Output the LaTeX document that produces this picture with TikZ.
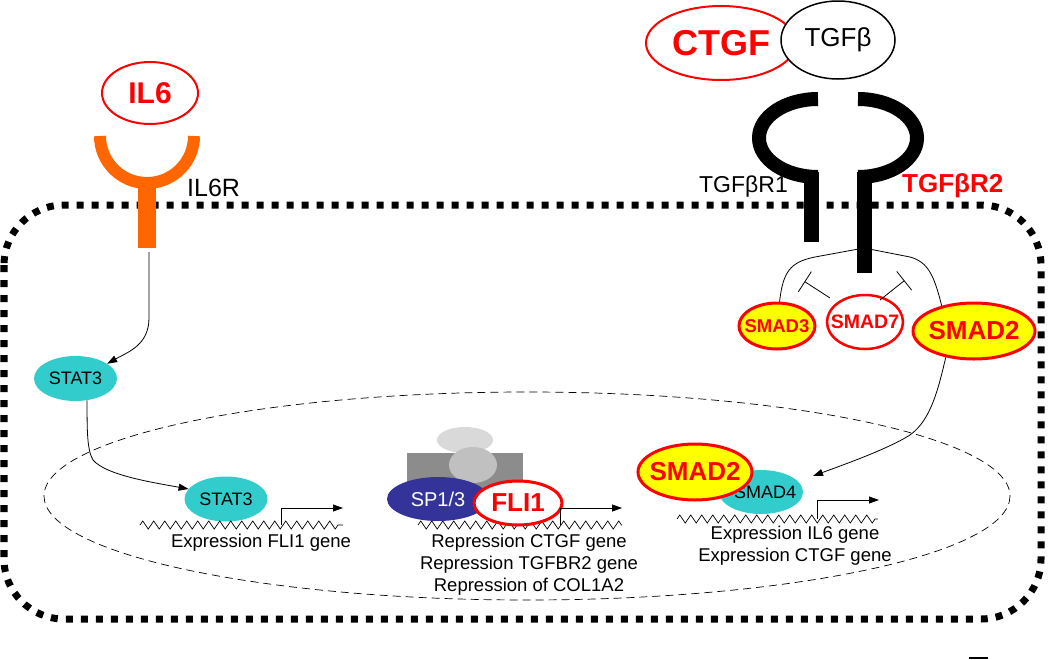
\documentclass[tikz,border=0pt]{standalone}
\usepackage{fontspec}
\setmainfont{Liberation Sans}
\usetikzlibrary{shapes.geometric,arrows.meta,decorations.pathmorphing}
\definecolor{cred}{HTML}{FF0000}
\definecolor{ccyan}{HTML}{33CCCC}
\definecolor{cyel}{HTML}{FFFF00}
\definecolor{corange}{HTML}{FF6600}
\definecolor{cblue}{HTML}{333399}
\definecolor{gdark}{HTML}{8C8C8C}
\definecolor{gmid}{HTML}{C0C0C0}
\definecolor{glight}{HTML}{D9D9D9}
\newcommand{\myfs}[1]{\fontsize{#1}{#1}\selectfont}
\newcommand{\nw}[1]{\makebox[0pt]{#1}}
\tikzset{
  cellwall/.style={line width=7pt, dash pattern=on 7pt off 8pt, rounded corners=60pt},
  nucwall/.style={line width=0.7pt, dash pattern=on 8pt off 5pt},
  statnode/.style={ellipse, fill=ccyan, inner sep=0pt, text=black, font=\myfs{18}},
  smady/.style={ellipse, fill=cyel, draw=cred, line width=3pt, inner sep=0pt, text=cred},
  redring/.style={ellipse, draw=cred, fill=white, line width=2pt, inner sep=0pt, text=cred},
  sig/.style={line width=0.8pt, -{Triangle[length=10pt,width=7pt]}},
  dna/.style={decorate, decoration={zigzag, segment length=11pt, amplitude=4pt}, line width=0.7pt},
  prom/.style={line width=0.8pt, -{Triangle[length=10pt,width=7pt]}},
  inhib/.style={line width=0.8pt, -{Bar[width=24pt,line width=0.8pt]}},
  gene/.style={align=center, font=\fontsize{18.5}{22}\selectfont, inner sep=0pt},
  recept/.style={line width=14pt}
}
\begin{document}
\begin{tikzpicture}[x=1pt,y=-1pt]
\useasboundingbox (0,0) rectangle (1050,659);

% cell and nucleus
\draw[cellwall] (4,205) rectangle (1041,619);
\draw[nucwall] (527,496) ellipse [x radius=483, y radius=104];

% IL6 and receptor
\node[redring, minimum width=96pt, minimum height=62pt, font=\bfseries\myfs{30}] (il6) at (150,93) {\nw{IL6}};
\draw[corange, line width=12pt] (194,136) arc[start angle=0, end angle=180, radius=47];
\fill[corange] (138,178) rectangle (156,248);
\coordinate (il6rb) at (149,252);
\node[font=\myfs{25}, anchor=west, inner sep=0pt] (il6rl) at (187,188) {IL6R};

% CTGF / TGFb
\node[redring, minimum width=150pt, minimum height=74pt, font=\bfseries\myfs{36}] (ctgf) at (721,43) {\nw{CTGF}};
\node[ellipse, draw=black, fill=white, line width=1.5pt, inner sep=0pt, minimum width=114pt, minimum height=78pt, font=\myfs{26}] (tgfb) at (838,40) {\nw{TGFβ}};

% SMADs in cytoplasm
\node[smady, minimum width=76pt, minimum height=46pt, font=\bfseries\myfs{18.5}] (smad3) at (777,326) {\nw{SMAD3}};
\node[redring, line width=2.5pt, minimum width=76pt, minimum height=54pt, font=\bfseries\myfs{19.5}] (smad7) at (865,322) {\nw{SMAD7}};
\node[smady, minimum width=122pt, minimum height=56pt, font=\bfseries\myfs{26}] (smad2c) at (974,331) {\nw{SMAD2}};

% signalling line around receptor
\draw[line width=0.8pt] (smad3.84) .. controls (783,272) and (790,262) .. (815,257) -- (864,248) -- (910,257) .. controls (928,262) and (934,275) .. (smad2c.142);

% TGFb receptors
\draw[recept] (818,99) arc[start angle=-90, end angle=-270, x radius=59, y radius=39];
\fill (804,172) rectangle (819,242);
\draw[recept] (858,99) arc[start angle=-90, end angle=90, x radius=59, y radius=39];
\fill (857,172) rectangle (872,273);
\node[font=\myfs{23}, anchor=east, inner sep=0pt] (r1l) at (788,187) {TGFβR1};
\node[font=\bfseries\myfs{26}, text=cred, anchor=west, inner sep=0pt] (r2l) at (902,186) {TGFβR2};

% inhibition
\coordinate (i1s) at (830,298);
\coordinate (i1e) at (804.5,281.5);
\coordinate (i2s) at (880,300);
\coordinate (i2e) at (904.5,280.5);
\draw[inhib] (i1s) -- (i1e);
\draw[inhib] (i2s) -- (i2e);

% STAT3
\node[statnode, minimum width=83pt, minimum height=45pt] (stat3a) at (75.5,378.5) {\nw{STAT3}};
\node[statnode, minimum width=83pt, minimum height=45pt] (stat3b) at (226,499) {\nw{STAT3}};
\draw[sig] (il6rb) -- (149,318) .. controls (149,345) and (128,352) .. (stat3a.25);
\draw[sig] (stat3a.-62) .. controls (87,430) and (87,450) .. (93,460) .. controls (106,475) and (150,482) .. (stat3b.165);

% gene 1
\draw[dna] (140,525) -- (343,525);
\draw[prom] (281,525) -- (281,508) -- (343,508);
\node[gene] (g1) at (261,543) {Expression FLI1 gene};

% FLI1 complex
\draw[dna] (418,525) -- (622,525);
\fill[gdark] (407,453) rectangle (523,490);
\fill[glight] (465,440) ellipse [x radius=28, y radius=13];
\fill[gmid] (473,465) ellipse [x radius=24, y radius=18];
\node[ellipse, fill=cblue, inner sep=0pt, minimum width=102pt, minimum height=44pt, text=white, font=\myfs{20}] (sp13) at (438,499) {\nw{SP1/3}};
\node[redring, line width=3pt, minimum width=88pt, minimum height=44pt, font=\bfseries\myfs{26}] (fli1) at (518,503) {\nw{FLI1}};
\draw[prom] (560,525) -- (560,508) -- (622,508);
\node[gene] (g2) at (529,565) {Repression CTGF gene\\Repression TGFBR2 gene\\Repression of COL1A2};

% SMAD2/SMAD4 complex
\draw[dna] (677,519) -- (878,519);
\node[statnode, minimum width=84pt, minimum height=44pt] (smad4) at (761,492) {\nw{\hspace*{8pt}SMAD4}};
\node[smady, minimum width=114pt, minimum height=56pt, font=\bfseries\myfs{26}] (smad2n) at (695,472) {\nw{SMAD2}};
\draw[prom] (817,519) -- (817,500) -- (879,500);
\node[gene] (g3) at (795,546) {Expression IL6 gene\\Expression CTGF gene};
\coordinate (s4tip) at (813,476);
\draw[sig] (smad2c.-137) .. controls (938,390) and (930,425) .. (905,438) .. controls (880,452) and (840,466) .. (s4tip);

% small mark at the lower edge
\draw[line width=1.5pt] (969,658) -- (988,658);
\end{tikzpicture}
\end{document}
